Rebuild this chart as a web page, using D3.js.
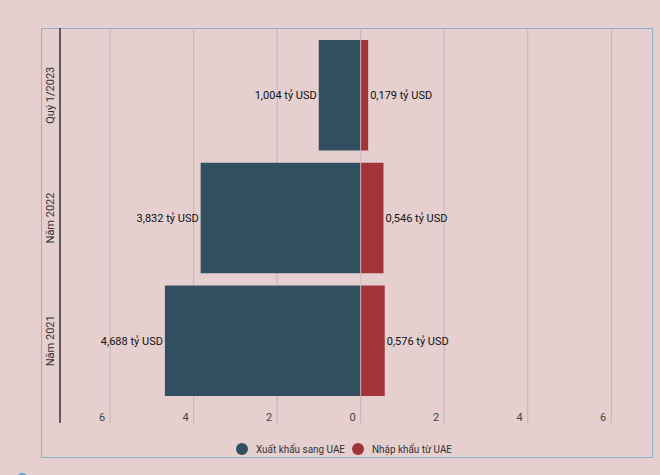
<!DOCTYPE html><html><head><meta charset="utf-8"><script src="https://d3js.org/d3.v7.min.js"></script>
<style>body{margin:0;background:#e5cfcf;font-family:Roboto,sans-serif}</style></head><body><svg width="660" height="475"></svg>
<script>
const categories=["Quý 1/2023","Năm 2022","Năm 2021"];
const exportVals=[1.004,3.832,4.688];
const importVals=[0.179,0.546,0.576];
const exportLabels=["1,004 tỷ USD","3,832 tỷ USD","4,688 tỷ USD"];
const importLabels=["0,179 tỷ USD","0,546 tỷ USD","0,576 tỷ USD"];
const ticks=[-6,-4,-2,0,2,4,6];
const svg=d3.select("svg");
svg.append("rect").attr("x",41.5).attr("y",28.5).attr("width",611).attr("height",429).attr("fill","none").attr("stroke","#8fb0cf");
const x=d3.scaleLinear().domain([-7.2,7]).range([60,653]);
const y=d3.scaleBand().domain(categories).range([40,396]).paddingInner(0.1).paddingOuter(0);
const g=svg.append("g");
ticks.forEach(t=>g.append("line").attr("x1",x(t)).attr("x2",x(t)).attr("y1",28).attr("y2",423).attr("stroke","#c4b4b4"));
ticks.forEach(t=>g.append("text").attr("x",x(t)-5).attr("y",421).attr("text-anchor","end").attr("font-size",11).attr("fill","#444").text(Math.abs(t)));
g.append("line").attr("x1",60).attr("x2",60).attr("y1",28).attr("y2",423).attr("stroke","#333").attr("stroke-width",1.5);
categories.forEach((c,i)=>{
 const yc=y(c)+y.bandwidth()/2;
 g.append("text").attr("transform",`translate(54,${yc}) rotate(-90)`).attr("text-anchor","middle").attr("font-size",11).attr("fill","#333").text(c);
 g.append("rect").attr("x",x(-exportVals[i])).attr("y",y(c)).attr("width",x(0)-x(-exportVals[i])).attr("height",y.bandwidth()).attr("fill","#324f62");
 g.append("rect").attr("x",x(0)).attr("y",y(c)).attr("width",x(importVals[i])-x(0)).attr("height",y.bandwidth()).attr("fill","#a3333b");
 g.append("text").attr("x",x(-exportVals[i])-2).attr("y",yc+4).attr("text-anchor","end").attr("font-size",11).attr("fill","#111").text(exportLabels[i]);
 g.append("text").attr("x",x(importVals[i])+2).attr("y",yc+4).attr("font-size",11).attr("fill","#111").text(importLabels[i]);
});
g.append("line").attr("x1",x(0)).attr("x2",x(0)).attr("y1",40).attr("y2",396).attr("stroke","#d8c8c8").attr("stroke-width",0.8);
const leg=[["Xuất khẩu sang UAE","#324f62",242,89],["Nhập khẩu từ UAE","#a3333b",358,80]];
leg.forEach(l=>{svg.append("circle").attr("cx",l[2]).attr("cy",449).attr("r",6).attr("fill",l[1]);
 svg.append("text").attr("x",l[2]+14).attr("y",453).attr("font-size",11).attr("textLength",l[3]).attr("lengthAdjust","spacingAndGlyphs").attr("fill","#333").text(l[0]);});
svg.append("text").attr("x",16).attr("y",486).attr("font-size",18).attr("fill","#5aa0d0").text("C");
</script></body></html>
